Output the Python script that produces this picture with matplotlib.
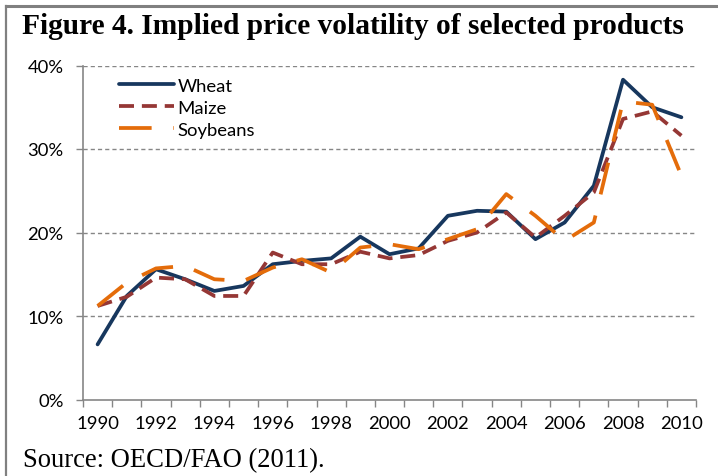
import numpy as np
import matplotlib
matplotlib.use("Agg")
import matplotlib.pyplot as plt
from matplotlib.lines import Line2D
from matplotlib.ticker import FixedLocator, FuncFormatter

years = np.arange(1990, 2011)
wheat = [6.6, 12.4, 15.6, 14.4, 13.0, 13.6, 16.2, 16.6, 16.9, 19.5, 17.4,
         18.1, 22.0, 22.6, 22.5, 19.2, 21.2, 25.6, 38.3, 35.0, 33.8]
maize = [11.2, 12.3, 14.6, 14.4, 12.4, 12.4, 17.6, 16.2, 16.2, 17.7, 16.9,
         17.3, 19.0, 20.0, 22.4, 19.4, 22.0, 24.8, 33.6, 34.5, 31.6]
soybeans = [11.2, 14.0, 15.7, 16.0, 14.4, 14.2, 15.8, 16.8, 15.2, 18.2, 18.6,
            18.0, 19.2, 20.4, 24.6, 22.0, 19.0, 21.2, 35.7, 35.3, 26.8]
yticks = [0, 10, 20, 30, 40]
xlabels = years[::2]

W, H = 718, 477
fig = plt.figure(figsize=(W / 100, H / 100), dpi=100)
sans = "Lato"
grey = "#868686"
fs = 13.3

ax = fig.add_axes([83 / W, 1 - 400.5 / H, 613 / W, 334 / H])

ax.plot(years, wheat, color="#17375E", lw=2.7, solid_capstyle="round",
        solid_joinstyle="round", label="Wheat")
ax.plot(years, maize, color="#953735", lw=2.7, dashes=(4.0, 2.1),
        dash_capstyle="butt", label="Maize")
ax.plot(years, soybeans, color="#E46C0A", lw=2.7, dashes=(8.7, 5.8),
        dash_capstyle="butt", label="Soybeans")

ax.set_xlim(1989.5, 2010.5)
ax.set_ylim(0, 40)
for v in yticks[1:]:
    ax.axhline(v, color=grey, lw=1.0, dashes=(3, 2.2), zorder=0)

ax.set_yticks(yticks)
ax.yaxis.set_major_formatter(FuncFormatter(lambda v, p: f"{v:.0f}%"))
ax.set_xticks(xlabels)
ax.set_xticklabels([str(y) for y in xlabels])
ax.xaxis.set_minor_locator(FixedLocator(np.arange(1989.5, 2011, 1)))
ax.tick_params(axis="x", which="major", length=0, pad=11.5)
ax.tick_params(axis="x", which="minor", length=5, color=grey, width=1)
ax.tick_params(axis="y", length=5, color=grey, width=1, pad=9)
for lab in ax.get_xticklabels() + ax.get_yticklabels():
    lab.set_fontfamily(sans)
    lab.set_fontsize(fs)
    lab.set_color("black")

for s in ["top", "right"]:
    ax.spines[s].set_visible(False)
for s in ["left", "bottom"]:
    ax.spines[s].set_color(grey)
    ax.spines[s].set_linewidth(1.2)

leg = ax.legend(loc="upper left", bbox_to_anchor=(0.058, 0.963),
                frameon=False, borderpad=0, borderaxespad=0,
                handlelength=3.0, handletextpad=0.2, labelspacing=0.32,
                prop={"family": sans, "size": fs})

fig.text(22 / W, 1 - 34.3 / H, "Figure 4. Implied price volatility of selected products",
         fontfamily="Liberation Serif", fontweight="bold", fontsize=21.2,
         va="baseline", ha="left")
fig.text(22.7 / W, 1 - 466.7 / H, "Source: OECD/FAO (2011).",
         fontfamily="Liberation Serif", fontsize=19.2, va="baseline", ha="left")

fig.add_artist(Line2D([6 / W, 1], [1 - 6.5 / H] * 2, color="#808080", lw=2.2))
fig.add_artist(Line2D([6 / W] * 2, [0, 1 - 6.5 / H], color="#808080", lw=1.6))

fig.savefig("out.png", dpi=100)
